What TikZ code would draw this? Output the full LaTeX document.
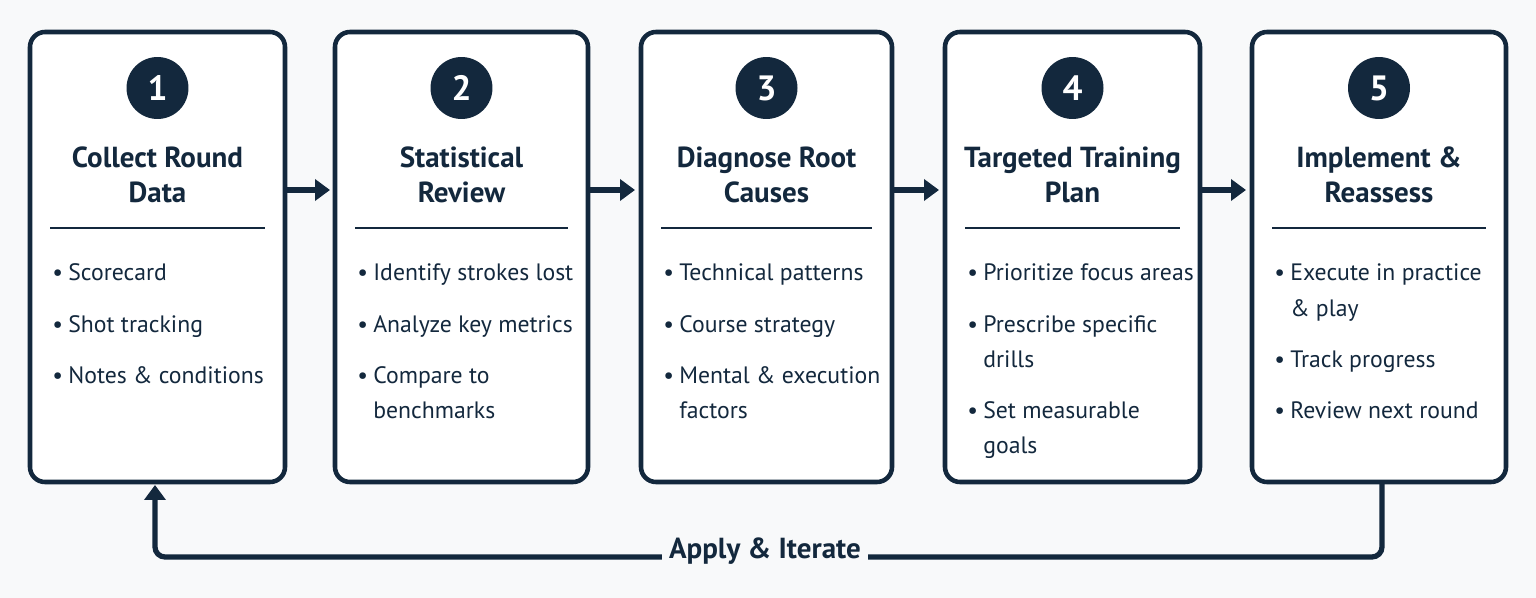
\documentclass[tikz,border=0pt]{standalone}
\usepackage{fontspec}
\setmainfont{PT Sans}
\usetikzlibrary{arrows.meta}
\definecolor{navy}{HTML}{13283D}
\definecolor{bg}{HTML}{F8F9FA}
\newcommand{\bl}{\textbullet}
\newcommand{\gp}{\\[0.32cm]}
\begin{document}
\begin{tikzpicture}[x=0.02cm,y=-0.02cm,
  box/.style={draw=navy,line width=2.6pt,rounded corners=0.3cm,fill=white},
  num/.style={circle,fill=navy,text=white,minimum size=1.24cm,inner sep=0pt,font=\fontsize{20}{20}\selectfont\bfseries},
  ttl/.style={text=navy,align=center,font=\fontsize{16.5}{20}\selectfont\bfseries},
  itm/.style={text=navy,anchor=north west,inner sep=0pt,font=\fontsize{13.5}{20}\selectfont},
  arr/.style={navy,line width=3pt,-{Triangle[length=0.3cm,width=0.42cm]}}]
\fill[bg] (0,0) rectangle (1536,598);
\useasboundingbox (0,0) rectangle (1536,598);
\foreach \i/\l/\r in {1/30/285,2/335/588,3/641/892,4/945/1200,5/1252/1506}{
  \draw[box] (\l,32) rectangle (\r,482);
  \node[num] (n\i) at ({(\l+\r)/2},88) {\i};
  \draw[navy,line width=1.6pt] (\l+20,228) -- (\r-20,228);
  \coordinate (b\i) at (\l+22,256);
  \coordinate (top\i) at ({(\l+\r)/2},175);
}
\coordinate (L1) at (286,190);\coordinate (R1) at (330,190);
\coordinate (L2) at (590,190);\coordinate (R2) at (635,190);
\coordinate (L3) at (894,190);\coordinate (R3) at (939,190);
\coordinate (L4) at (1202,190);\coordinate (R4) at (1246,190);
\foreach \k in {1,...,4}{\draw[arr] (L\k) -- (R\k);}
\node[ttl] (t1) at (top1) {Collect Round\\Data};
\node[ttl] (t2) at (top2) {Statistical\\Review};
\node[ttl] (t3) at (top3) {Diagnose Root\\Causes};
\node[ttl] (t4) at (top4) {Targeted Training\\Plan};
\node[ttl] (t5) at (top5) {Implement \&\\Reassess};
\node[itm] (i1) at (b1) {\begin{tabular}{@{}p{0.32cm}@{}l@{}}\bl&Scorecard\gp\bl&Shot tracking\gp\bl&Notes \& conditions\end{tabular}};
\node[itm] (i2) at (b2) {\begin{tabular}{@{}p{0.32cm}@{}l@{}}\bl&Identify strokes lost\gp\bl&Analyze key metrics\gp\bl&Compare to\\&benchmarks\end{tabular}};
\node[itm] (i3) at (b3) {\begin{tabular}{@{}p{0.32cm}@{}l@{}}\bl&Technical patterns\gp\bl&Course strategy\gp\bl&Mental \& execution\\&factors\end{tabular}};
\node[itm] (i4) at (b4) {\begin{tabular}{@{}p{0.32cm}@{}l@{}}\bl&Prioritize focus areas\gp\bl&Prescribe specific\\&drills\gp\bl&Set measurable\\&goals\end{tabular}};
\node[itm] (i5) at (b5) {\begin{tabular}{@{}p{0.32cm}@{}l@{}}\bl&Execute in practice\\&\& play\gp\bl&Track progress\gp\bl&Review next round\end{tabular}};
\coordinate (s5) at (1382,484);
\coordinate (c5) at (1382,557);
\coordinate (c1) at (155,557);
\coordinate (e1) at (155,485);
\draw[arr,rounded corners=0.2cm] (s5) -- (c5) -- (c1) -- (e1);
\node[fill=bg,text=navy,font=\fontsize{16.5}{18}\selectfont\bfseries,inner xsep=0.15cm] (ap) at (765,551) {Apply \& Iterate};
\end{tikzpicture}
\end{document}
